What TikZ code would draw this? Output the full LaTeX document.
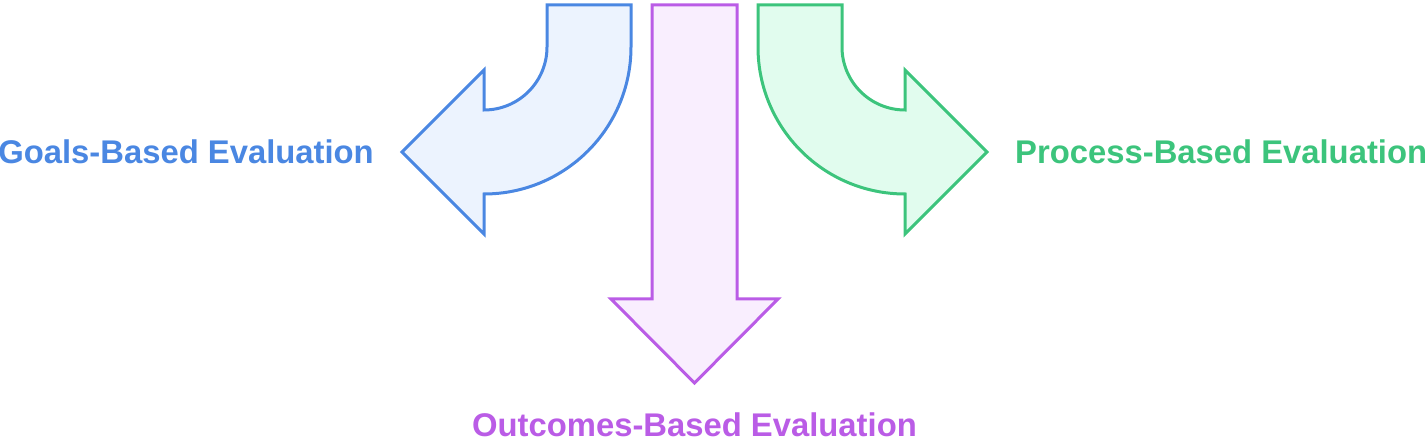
\documentclass[tikz,border=0pt]{standalone}
\usepackage{fontspec}
\setmainfont{Liberation Sans}
\usepackage{tikz}
\usetikzlibrary{positioning}

\definecolor{goalsline}{HTML}{4A87E2}
\definecolor{goalsfill}{HTML}{ECF3FE}
\definecolor{outline}{HTML}{BA5CE6}
\definecolor{outfill}{HTML}{F9EEFE}
\definecolor{procline}{HTML}{3CC47C}
\definecolor{procfill}{HTML}{E1FCEE}

\begin{document}
\begin{tikzpicture}[
    x=1pt, y=1pt,
    node distance=28pt and 28pt,
    arrowshape/.style={line width=3pt, line join=miter},
    label/.style={font=\fontsize{32.8}{38}\selectfont\bfseries, inner sep=0pt}]

\useasboundingbox (0,0) rectangle (1428,443);

% Arrows
\draw[arrowshape, draw=goalsline, fill=goalsfill]
    (547,438) -- (547,396) arc[start angle=0, end angle=-90, radius=63]
    -- (484,373) -- (402,291) -- (484,209) -- (484,249)
    arc[start angle=-90, end angle=0, radius=147] -- (631,438) -- cycle;
\draw[arrowshape, draw=procline, fill=procfill]
    (842,438) -- (842,396) arc[start angle=180, end angle=270, radius=63]
    -- (905,373) -- (987,291) -- (905,209) -- (905,249)
    arc[start angle=270, end angle=180, radius=147] -- (758,438) -- cycle;
\draw[arrowshape, draw=outline, fill=outfill]
    (652,438) -- (652,144) -- (611,144) -- (694.5,60) -- (778,144)
    -- (737,144) -- (737,438) -- cycle;

% Tips
\coordinate (goalstip) at (402,291);
\coordinate (proctip) at (987,291);
\coordinate (outtip) at (694.5,60);

% Labels
\node[label, text=goalsline, left=of goalstip] (goals) {Goals-Based Evaluation};
\node[label, text=procline, right=of proctip] (process) {Process-Based Evaluation};
\node[label, text=outline, below=30pt of outtip] (outcomes) {Outcomes-Based Evaluation};
\end{tikzpicture}
\end{document}
